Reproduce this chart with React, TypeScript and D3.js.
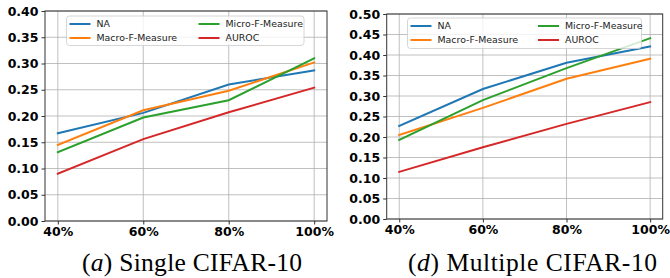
import React, { useRef, useEffect } from 'react';
import * as d3 from 'd3';

const xValues = [40, 60, 80, 100];
const xTickLabels = ['40%', '60%', '80%', '100%'];
const seriesNames = ['NA', 'Macro-F-Measure', 'Micro-F-Measure', 'AUROC'];
const seriesColors = ['#1f77b4', '#ff7f0e', '#2ca02c', '#d62728'];

// (a) Single CIFAR-10
const singleNA = [0.167, 0.206, 0.260, 0.287];
const singleMacro = [0.145, 0.211, 0.248, 0.302];
const singleMicro = [0.131, 0.197, 0.230, 0.310];
const singleAUROC = [0.090, 0.156, 0.207, 0.254];
const singleYTicks = [0, 0.05, 0.1, 0.15, 0.2, 0.25, 0.3, 0.35, 0.4];

// (d) Multiple CIFAR-10
const multiNA = [0.227, 0.317, 0.381, 0.421];
const multiMacro = [0.205, 0.271, 0.342, 0.391];
const multiMicro = [0.193, 0.290, 0.368, 0.441];
const multiAUROC = [0.115, 0.175, 0.232, 0.285];
const multiYTicks = [0, 0.05, 0.1, 0.15, 0.2, 0.25, 0.3, 0.35, 0.4, 0.45, 0.5];

const W = 670;
const H = 278;

function drawPanel(svg, opts) {
  const { left, right, top, bottom, yMax, yTicks, series, legend, caption, letter } = opts;
  const g = svg.append('g');

  const x = d3.scaleLinear().domain([37, 103]).range([left, right]);
  const y = d3.scaleLinear().domain([0, yMax]).range([bottom, top]);

  // grid
  g.selectAll('.gx').data(xValues).join('line')
    .attr('x1', d => x(d)).attr('x2', d => x(d))
    .attr('y1', top).attr('y2', bottom)
    .attr('stroke', '#b0b0b0').attr('stroke-width', 0.8);
  g.selectAll('.gy').data(yTicks).join('line')
    .attr('x1', left).attr('x2', right)
    .attr('y1', d => y(d)).attr('y2', d => y(d))
    .attr('stroke', '#b0b0b0').attr('stroke-width', 0.8);

  // lines
  const line = d3.line().x((d, i) => x(xValues[i])).y(d => y(d));
  series.forEach((vals, i) => {
    g.append('path')
      .datum(vals)
      .attr('d', line)
      .attr('fill', 'none')
      .attr('stroke', seriesColors[i])
      .attr('stroke-width', 2)
      .attr('stroke-linecap', 'square');
  });

  // spines
  g.append('rect')
    .attr('x', left).attr('y', top)
    .attr('width', right - left).attr('height', bottom - top)
    .attr('fill', 'none').attr('stroke', '#333').attr('stroke-width', 1);

  // axes
  const yAxis = d3.axisLeft(y).tickValues(yTicks).tickFormat(d3.format('.2f'))
    .tickSizeInner(3.5).tickSizeOuter(0).tickPadding(3);
  const ya = g.append('g').attr('transform', `translate(${left},0)`).call(yAxis);
  const xAxis = d3.axisBottom(x).tickValues(xValues).tickFormat((d, i) => xTickLabels[i])
    .tickSizeInner(3.5).tickSizeOuter(0).tickPadding(3);
  const xa = g.append('g').attr('transform', `translate(0,${bottom})`).call(xAxis);
  [ya, xa].forEach(a => {
    a.select('.domain').remove();
    a.selectAll('line').attr('stroke', '#333');
    a.selectAll('text')
      .attr('fill', '#000')
      .style('font-family', 'DejaVu Sans')
      .style('font-weight', 'bold')
      .style('font-size', '12.5px');
  });

  // legend
  const lg = g.append('g').attr('transform', `translate(${legend.x},${legend.y})`);
  lg.append('rect')
    .attr('width', legend.w).attr('height', legend.h)
    .attr('rx', 3)
    .attr('fill', 'white').attr('fill-opacity', 0.8)
    .attr('stroke', '#cccccc').attr('stroke-width', 0.8);
  seriesNames.forEach((name, i) => {
    const col = i < 2 ? 0 : 1;
    const row = i % 2;
    const ex = 3 + col * legend.colGap;
    const ey = 8 + row * 14;
    lg.append('line')
      .attr('x1', ex).attr('x2', ex + 21)
      .attr('y1', ey).attr('y2', ey)
      .attr('stroke', seriesColors[i]).attr('stroke-width', 2);
    lg.append('text')
      .attr('x', ex + 27).attr('y', ey)
      .attr('dy', '0.35em')
      .style('font-family', 'DejaVu Sans')
      .style('font-size', '9.4px')
      .attr('fill', '#222')
      .text(name);
  });

  // caption
  const cap = g.append('text')
    .attr('x', caption.x).attr('y', 271)
    .attr('textLength', caption.w)
    .attr('lengthAdjust', 'spacing')
    .style('font-family', 'Liberation Serif')
    .style('font-size', '25.5px')
    .attr('fill', '#000');
  cap.append('tspan').text('(');
  cap.append('tspan').style('font-style', 'italic').text(letter);
  cap.append('tspan').text(') ' + caption.text);
}

export default function App() {
  const ref = useRef(null);

  useEffect(() => {
    const svg = d3.select(ref.current);
    svg.selectAll('*').remove();
    svg.append('rect').attr('width', W).attr('height', H).attr('fill', 'white');

    drawPanel(svg, {
      left: 45, right: 327, top: 11, bottom: 221,
      yMax: 0.4, yTicks: singleYTicks,
      series: [singleNA, singleMacro, singleMicro, singleAUROC],
      legend: { x: 66.5, y: 16, w: 237.5, h: 29.5, colGap: 129 },
      caption: { x: 82, w: 220, text: 'Single CIFAR-10' },
      letter: 'a',
    });
    drawPanel(svg, {
      left: 386.7, right: 662.7, top: 14, bottom: 219,
      yMax: 0.5, yTicks: multiYTicks,
      series: [multiNA, multiMacro, multiMicro, multiAUROC],
      legend: { x: 407.5, y: 18, w: 234, h: 30.5, colGap: 127.5 },
      caption: { x: 408, w: 249, text: 'Multiple CIFAR-10' },
      letter: 'd',
    });
  }, []);

  return (
    <svg ref={ref} width={W} height={H}
      style={{ position: 'absolute', left: 0, top: 0, display: 'block' }} />
  );
}
